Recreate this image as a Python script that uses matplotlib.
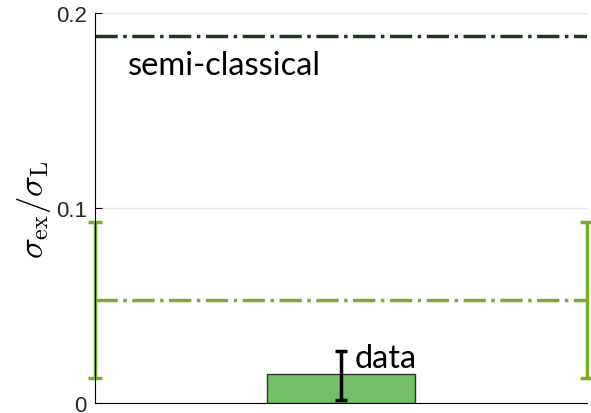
import matplotlib.pyplot as plt

plt.rcParams['mathtext.fontset'] = 'cm'

# values (ratio sigma_ex / sigma_L)
semi_classical = 0.188
band_x = [0.0, 1.0]
band_mid = [0.053, 0.053]
band_lo = 0.013
band_hi = 0.093
data_x = 0.5
data_val = 0.0150
data_err_lo = 0.0015
data_err_hi = 0.0267
bar_width = 0.3

fig = plt.figure(figsize=(5.91, 4.14), dpi=100)
ax = fig.add_axes([0.161, 0.024, 0.832, 0.942])

green = '#77ac30'
ax.plot([0, 1], [semi_classical, semi_classical], '-.', color='#1e3a1c', lw=2.5)
ax.plot(band_x, band_mid, '-.', color=green, lw=2.5)
for xb in band_x:
    ax.errorbar([xb], [(band_lo + band_hi) / 2], yerr=[[(band_hi - band_lo) / 2]],
                fmt='none', ecolor=green, elinewidth=2.5, capsize=5, capthick=2.5, clip_on=False)

ax.bar([data_x], [data_val], width=bar_width, color='#72bf65', edgecolor='#333333', lw=1)
ax.errorbar([data_x], [data_val], yerr=[[data_val - data_err_lo], [data_err_hi - data_val]],
            fmt='none', ecolor='black', elinewidth=2.5, capsize=4, capthick=2.5)

ax.text(0.066, 0.1685, 'semi-classical', fontsize=23.5, family='Lato', va='baseline')
ax.text(0.528, 0.0185, 'data', fontsize=23.5, family='Lato', va='baseline')

ax.set_xlim(0, 1)
ax.set_ylim(0, 0.2)
ax.set_yticks([0, 0.1, 0.2])
ax.set_yticklabels(['0', '0.1', '0.2'], fontsize=16, family='Liberation Sans', color='#262626')
ax.set_xticks([])
ax.tick_params(axis='y', direction='in', length=5, pad=6)
ax.yaxis.grid(True, color='#e6e6e6', lw=1)
ax.set_axisbelow(True)
ax.spines['top'].set_visible(False)
ax.spines['right'].set_visible(False)
ax.set_ylabel(r'$\sigma_{\rm ex}/\sigma_{\rm L}$', fontsize=25, labelpad=2)

fig.savefig('out.png', dpi=100)
